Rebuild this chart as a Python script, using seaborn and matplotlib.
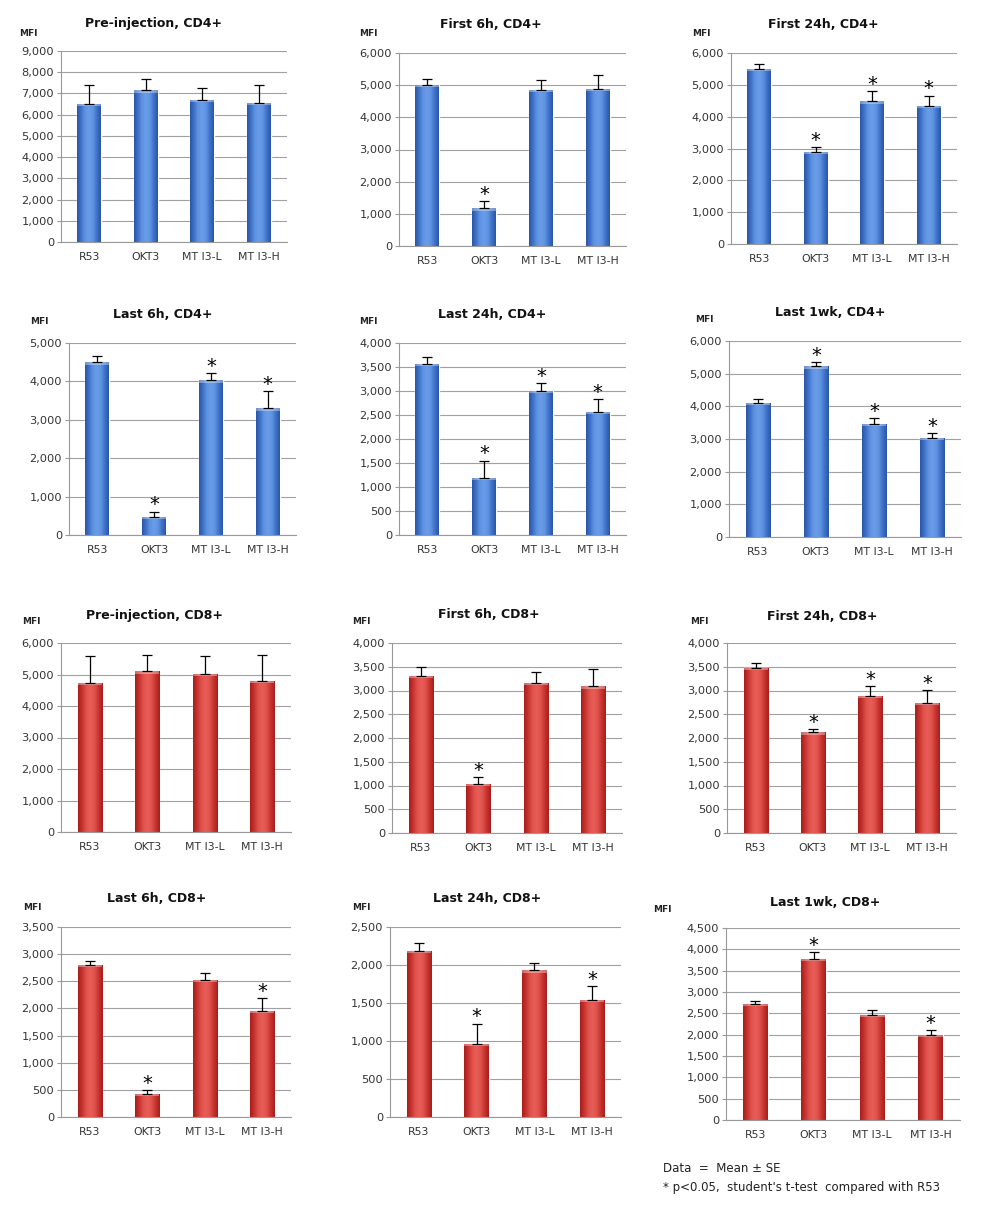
import numpy as np
import pandas as pd
import matplotlib
matplotlib.use("Agg")
import matplotlib.pyplot as plt
import seaborn as sns
from matplotlib.colors import LinearSegmentedColormap
from matplotlib.ticker import FuncFormatter, FixedLocator, MultipleLocator

# ---- data ----
groups = ["R53", "OKT3", "MTI3-L", "MTI3-H"]
tick_labels = ["R53", "OKT3", "MT I3-L", "MT I3-H"]

titles = [
    "Pre-injection, CD4+", "First 6h, CD4+", "First 24h, CD4+",
    "Last 6h, CD4+", "Last 24h, CD4+", "Last 1wk, CD4+",
    "Pre-injection, CD8+", "First 6h, CD8+", "First 24h, CD8+",
    "Last 6h, CD8+", "Last 24h, CD8+", "Last 1wk, CD8+",
]

pre_cd4_mean = [6500, 7150, 6700, 6550]
pre_cd4_se = [900, 550, 550, 850]
f6_cd4_mean = [5000, 1170, 4850, 4880]
f6_cd4_se = [200, 230, 300, 430]
f24_cd4_mean = [5500, 2900, 4480, 4350]
f24_cd4_se = [170, 150, 320, 310]
l6_cd4_mean = [4500, 470, 4030, 3300]
l6_cd4_se = [170, 140, 180, 450]
l24_cd4_mean = [3560, 1190, 3000, 2570]
l24_cd4_se = [140, 360, 170, 260]
l1w_cd4_mean = [4100, 5230, 3470, 3030]
l1w_cd4_se = [120, 120, 160, 160]

pre_cd8_mean = [4730, 5100, 5030, 4800]
pre_cd8_se = [850, 520, 560, 820]
f6_cd8_mean = [3310, 1030, 3160, 3090]
f6_cd8_se = [190, 150, 230, 360]
f24_cd8_mean = [3470, 2120, 2890, 2740]
f24_cd8_se = [100, 60, 210, 270]
l6_cd8_mean = [2800, 430, 2530, 1960]
l6_cd8_se = [80, 60, 120, 230]
l24_cd8_mean = [2190, 960, 1930, 1540]
l24_cd8_se = [100, 270, 100, 180]
l1w_cd8_mean = [2720, 3780, 2470, 2000]
l1w_cd8_se = [70, 150, 100, 100]

means = [pre_cd4_mean, f6_cd4_mean, f24_cd4_mean, l6_cd4_mean, l24_cd4_mean, l1w_cd4_mean,
         pre_cd8_mean, f6_cd8_mean, f24_cd8_mean, l6_cd8_mean, l24_cd8_mean, l1w_cd8_mean]
ses = [pre_cd4_se, f6_cd4_se, f24_cd4_se, l6_cd4_se, l24_cd4_se, l1w_cd4_se,
       pre_cd8_se, f6_cd8_se, f24_cd8_se, l6_cd8_se, l24_cd8_se, l1w_cd8_se]

# significance vs R53
stars = [
    [0, 0, 0, 0], [0, 1, 0, 0], [0, 1, 1, 1],
    [0, 1, 1, 1], [0, 1, 1, 1], [0, 1, 1, 1],
    [0, 0, 0, 0], [0, 1, 0, 0], [0, 1, 1, 1],
    [0, 1, 0, 1], [0, 1, 0, 1], [0, 1, 0, 1],
]

y_max = [9000, 6000, 6000, 5000, 4000, 6000, 6000, 4000, 4000, 3500, 2500, 4500]
y_step = [1000, 1000, 1000, 1000, 500, 1000, 1000, 500, 500, 500, 500, 500]

# ---- layout (pixels in a 989x1210 canvas) ----
W, H = 989, 1210
# plot area: left, right, top, bottom
boxes = [
    (61, 287, 51, 242), (399, 626, 53, 246), (731, 957, 53, 244),
    (69, 296, 343, 535), (399, 626, 343, 535), (729, 961, 341, 537),
    (61, 291, 643, 832), (392, 622, 643, 833), (727, 956, 643, 833),
    (61, 291, 927, 1117), (390, 621, 927, 1117), (726, 960, 928, 1120),
]
title_pos = [(154, 24), (491, 24), (823, 24),
             (163, 315), (492, 315), (830, 313),
             (155, 615), (489, 615), (822, 617),
             (157, 898), (487, 898), (825, 902)]
mfi_pos = [(28, 33), (368, 33), (701, 33),
           (39, 322), (368, 322), (704, 320),
           (31, 622), (361, 622), (699, 622),
           (32, 907), (361, 907), (662, 909)]

blue_cmap = LinearSegmentedColormap.from_list(
    "blue_bar", ["#2a56a8", "#3f72c8", "#5f93e2", "#6a9ce8", "#5f93e2", "#3f72c8", "#2a56a8"])
red_cmap = LinearSegmentedColormap.from_list(
    "red_bar", ["#a81e1c", "#c83430", "#e0524c", "#e85e58", "#e0524c", "#c83430", "#a81e1c"])

sns.set_theme(style="white")
plt.rcParams["font.family"] = ["DejaVu Sans"]

fig = plt.figure(figsize=(W / 100, H / 100), dpi=100)
fig.patch.set_facecolor("white")


def px_ax(left, right, top, bottom):
    return fig.add_axes([left / W, 1 - bottom / H, (right - left) / W, (bottom - top) / H])


for i in range(12):
    ax = px_ax(*boxes[i])
    df = pd.DataFrame({"group": groups, "mfi": means[i]})
    base = "#3f72c8" if i < 6 else "#c83430"
    cmap = blue_cmap if i < 6 else red_cmap
    sns.barplot(data=df, x="group", y="mfi", color=base, width=0.42,
                saturation=1, errorbar=None, ax=ax, zorder=2)

    # cylinder-like shading on each bar
    grad = np.linspace(0, 1, 64).reshape(1, -1)
    for p in ax.patches:
        x0, w, h = p.get_x(), p.get_width(), p.get_height()
        im = ax.imshow(grad, extent=[x0, x0 + w, 0, h], cmap=cmap,
                       aspect="auto", origin="lower", zorder=2.5)
        im.set_clip_path(p)
        cap_h = y_max[i] * 0.012
        ax.fill_between([x0, x0 + w], h - cap_h, h, color="white", alpha=0.35,
                        lw=0, zorder=2.6)

    x = np.arange(4)
    m = np.array(means[i])
    s = np.array(ses[i])
    ax.errorbar(x, m, yerr=[np.zeros(4), s], fmt="none", ecolor="black",
                elinewidth=0.9, capsize=3.5, capthick=0.9, zorder=3)
    for j in range(4):
        if stars[i][j]:
            ax.annotate("*", (x[j], m[j] + s[j]), xytext=(0, -2),
                        textcoords="offset points", ha="center", va="bottom",
                        fontsize=14, color="black", zorder=4)

    ax.set_xlim(-0.5, 3.5)
    ax.set_ylim(0, y_max[i])
    ax.yaxis.set_major_locator(MultipleLocator(y_step[i]))
    ax.yaxis.set_major_formatter(FuncFormatter(lambda v, _: f"{v:,.0f}"))
    ax.set_xticks(x)
    ax.set_xticklabels(tick_labels)
    ax.xaxis.set_minor_locator(FixedLocator([-0.5, 0.5, 1.5, 2.5, 3.5]))
    ax.tick_params(axis="x", which="major", length=0, pad=7, labelsize=7.8, colors="#333333")
    ax.tick_params(axis="x", which="minor", length=4, width=0.8, color="#999999", direction="out")
    ax.tick_params(axis="y", length=3, width=0.8, color="#999999", pad=2,
                   labelsize=8.2, labelcolor="#333333", direction="out", left=True)
    ax.set_xlabel("")
    ax.set_ylabel("")
    ax.yaxis.grid(True, color="#a0a0a0", lw=0.8)
    ax.set_axisbelow(True)
    for side in ["top", "right"]:
        ax.spines[side].set_visible(False)
    for side in ["left", "bottom"]:
        ax.spines[side].set_color("#999999")
        ax.spines[side].set_linewidth(0.8)

    tx, ty = title_pos[i]
    fig.text(tx / W, 1 - ty / H, titles[i], ha="center", va="center",
             fontsize=9, fontweight="bold", color="#111111")
    mx, my = mfi_pos[i]
    fig.text(mx / W, 1 - my / H, "MFI", ha="center", va="center",
             fontsize=6.5, fontweight="bold", color="#222222")

fig.text(663 / W, 1 - 1168 / H, "Data  =  Mean \u00b1 SE", ha="left", va="center",
         fontsize=8.5, color="#222222")
fig.text(663 / W, 1 - 1187 / H, "* p<0.05,  student's t-test  compared with R53",
         ha="left", va="center", fontsize=8.5, color="#222222")

fig.savefig("out.png", dpi=100, facecolor="white")
